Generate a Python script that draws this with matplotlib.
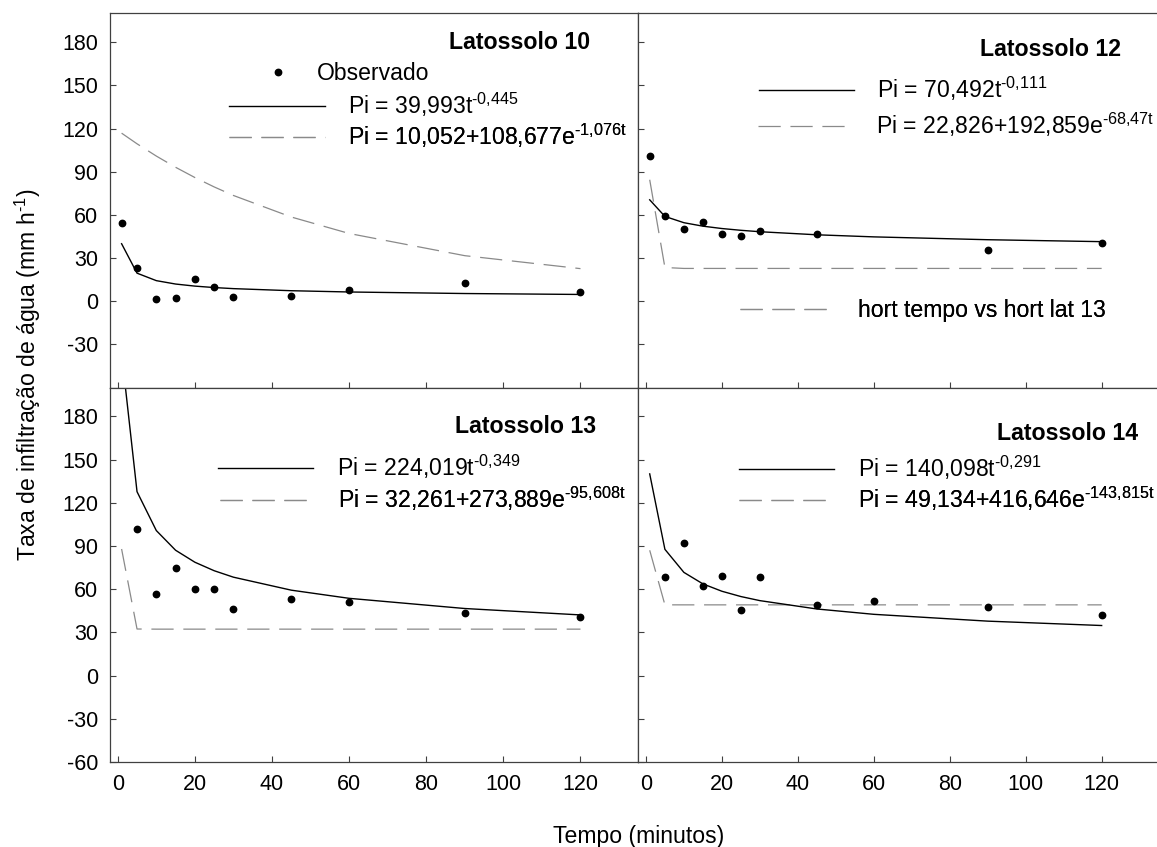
import numpy as np
import matplotlib.pyplot as plt

plt.rcParams['font.family'] = ['Liberation Sans', 'DejaVu Sans']
plt.rcParams['mathtext.fontset'] = 'custom'
plt.rcParams['mathtext.rm'] = 'Liberation Sans'
plt.rcParams['mathtext.it'] = 'Liberation Sans:italic'
plt.rcParams['mathtext.bf'] = 'Liberation Sans:bold'
plt.rcParams['lines.scale_dashes'] = False
plt.rcParams['axes.unicode_minus'] = False

FS_TICK = 15.5
FS = 16.6
CINZA = '#8a8a8a'
EIXO = '#404040'
TRACO = (0, (16, 7))
HIF = '\u2010'  # hifen curto nos expoentes

# tempo de leitura (minutos)
tempo = [1, 5, 10, 15, 20, 25, 30, 45, 60, 90, 120]

# Latossolo 10
obs_lat10 = [54.6, 22.9, 1.6, 2.5, 15.7, 10.1, 3.2, 3.9, 7.8, 12.7, 6.7]
pot_lat10 = [39.99, 19.54, 14.35, 11.99, 10.55, 9.55, 8.80, 7.35, 6.47, 5.40, 4.75]
exp_lat10 = [116.80, 109.41, 100.89, 93.10, 85.98, 79.46, 73.51, 58.55, 47.11, 31.69, 22.69]

# Latossolo 12
obs_lat12 = [100.9, 59.2, 50.2, 55.1, 46.5, 45.3, 49.0, 46.7, np.nan, 35.4, 40.3]
pot_lat12 = [70.49, 58.96, 54.60, 52.19, 50.55, 49.32, 48.33, 46.20, 44.75, 42.78, 41.43]
exp_lat12 = [84.44, 23.47, 22.83, 22.83, 22.83, 22.83, 22.83, 22.83, 22.83, 22.83, 22.83]

# Latossolo 13
obs_lat13 = [np.nan, 101.8, 56.4, 74.7, 60.4, 60.4, 46.0, 53.0, 51.1, 43.7, 40.9]
pot_lat13 = [224.02, 127.75, 100.75, 87.07, 78.75, 72.85, 68.36, 59.34, 53.67, 46.59, 42.14]
exp_lat13 = [87.92, 32.36, 32.26, 32.26, 32.26, 32.26, 32.26, 32.26, 32.26, 32.26, 32.26]

# Latossolo 14
obs_lat14 = [np.nan, 68.5, 92.1, 62.4, 69.2, 45.3, 68.2, 49.2, 51.6, 47.6, 42.1]
pot_lat14 = [140.10, 87.71, 71.69, 63.71, 58.59, 54.91, 52.07, 46.27, 42.56, 37.82, 34.78]
exp_lat14 = [87.05, 49.14, 49.13, 49.13, 49.13, 49.13, 49.13, 49.13, 49.13, 49.13, 49.13]


def sup(base, expoente):
    return base + r'$^{\mathregular{' + HIF + expoente.replace(',', '{,}') + '}}$'


eq_pot = {
    10: sup('Pi = 39,993t', '0,445'),
    12: sup('Pi = 70,492t', '0,111'),
    13: sup('Pi = 224,019t', '0,349'),
    14: sup('Pi = 140,098t', '0,291'),
}
eq_exp = {
    10: sup('Pi = 10,052+108,677e', '1,076t'),
    12: sup('Pi = 22,826+192,859e', '68,47t'),
    13: sup('Pi = 32,261+273,889e', '95,608t'),
    14: sup('Pi = 49,134+416,646e', '143,815t'),
}

fig = plt.figure(figsize=(11.57, 8.47), dpi=100)
ax10 = fig.add_axes([0.0951, 0.5423, 0.4566, 0.4419])
ax12 = fig.add_axes([0.5517, 0.5423, 0.4497, 0.4419])
ax13 = fig.add_axes([0.0951, 0.1004, 0.4566, 0.4419])
ax14 = fig.add_axes([0.5517, 0.1004, 0.4497, 0.4419])


def chave(ax, handle, texto, x, y, hlen=4.14, pad=1.0):
    leg = ax.legend([handle], [texto], loc='center left', bbox_to_anchor=(x, y),
                    frameon=False, borderpad=0, borderaxespad=0, numpoints=1,
                    handlelength=hlen, handletextpad=pad, fontsize=FS)
    ax.add_artist(leg)


def painel(ax, obs, pot, expo, titulo, pos_tit, topo, esquerda):
    pts, = ax.plot(tempo, obs, 'o', color='black', markersize=4.6, zorder=3)
    lp, = ax.plot(tempo, pot, '-', color='black', lw=1.0, zorder=2)
    le, = ax.plot(tempo, expo, color=CINZA, lw=0.9, linestyle=TRACO, zorder=1)
    ax.set_xlim(-2, 135)
    ax.set_ylim(-60, 200)
    ax.set_xticks(range(0, 121, 20))
    ax.set_yticks(range(-30, 181, 30) if topo else range(-60, 181, 30))
    ax.tick_params(direction='in', length=4, width=0.8, color=EIXO,
                   labelsize=FS_TICK, pad=8.5, top=False, right=False,
                   labelbottom=not topo, labelleft=esquerda)
    for s in ax.spines.values():
        s.set_color(EIXO)
        s.set_linewidth(0.9)
    ax.text(pos_tit[0], pos_tit[1], titulo, transform=ax.transAxes,
            ha='right', va='center', fontsize=16.7, fontweight='bold')
    return pts, lp, le


p10, l10, e10 = painel(ax10, obs_lat10, pot_lat10, exp_lat10, 'Latossolo 10', (0.9086, 0.9215), True, True)
p12, l12, e12 = painel(ax12, obs_lat12, pot_lat12, exp_lat12, 'Latossolo 12', (0.9273, 0.9038), True, False)
p13, l13, e13 = painel(ax13, obs_lat13, pot_lat13, exp_lat13, 'Latossolo 13', (0.9200, 0.8956), False, True)
p14, l14, e14 = painel(ax14, obs_lat14, pot_lat14, exp_lat14, 'Latossolo 14', (0.9604, 0.8787), False, False)

# legendas de cada painel
chave(ax10, p10, 'Observado', 0.2734, 0.8397, hlen=2.0, pad=0.69)
chave(ax10, l10, eq_pot[10], 0.2253, 0.7551)
chave(ax10, e10, eq_exp[10], 0.2253, 0.6723)

chave(ax12, l12, eq_pot[12], 0.2314, 0.7970)
chave(ax12, e12, eq_exp[12], 0.2295, 0.7017)
chave(ax12, e12, 'hort tempo vs hort lat 13', 0.1953, 0.2049)

chave(ax13, l13, eq_pot[13], 0.2044, 0.7871)
chave(ax13, e13, eq_exp[13], 0.2075, 0.7033)

chave(ax14, l14, eq_pot[14], 0.1935, 0.7861)
chave(ax14, e14, eq_exp[14], 0.1935, 0.7033)

fig.text(0.5517, 4 / 847, 'Tempo (minutos)', ha='center', va='baseline', fontsize=FS)
fig.text(28 / 1157, 1 - 375 / 847, r'Taxa de infiltração de água (mm h$^{\mathregular{' + HIF + '1}}$)',
         ha='center', va='center', rotation=90, fontsize=FS)

fig.savefig('out.png', dpi=100)
